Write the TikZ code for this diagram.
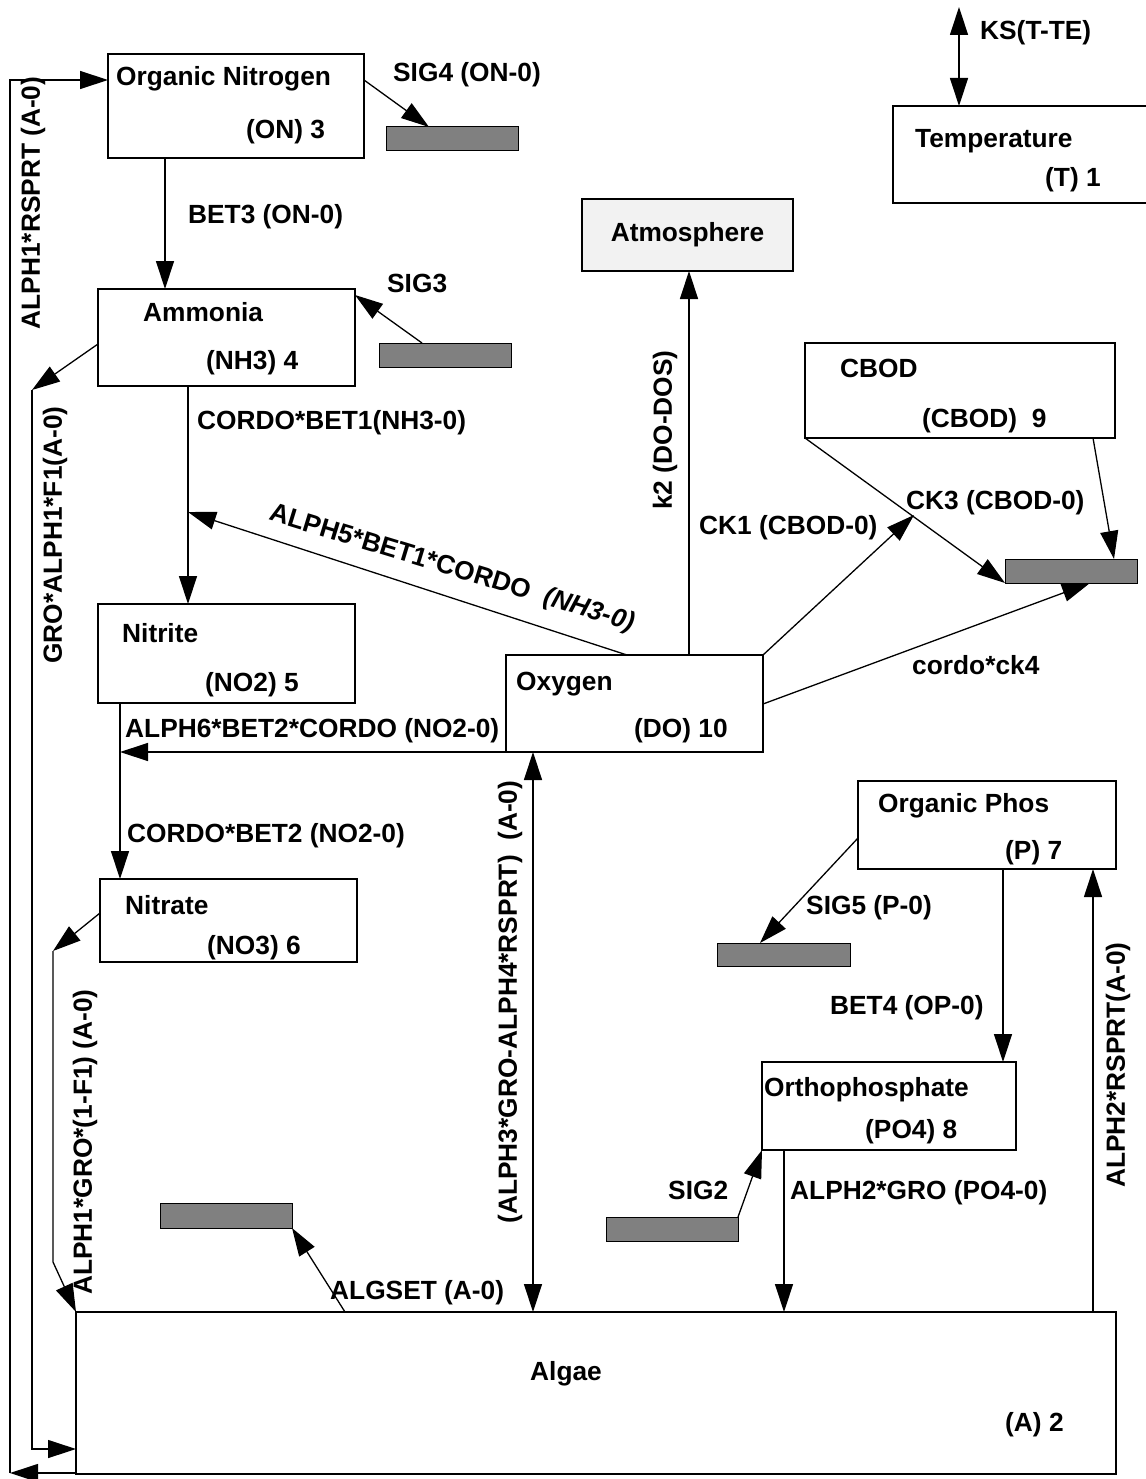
\documentclass[tikz,border=0pt]{standalone}
\usepackage{fontspec}
\setmainfont{Liberation Sans}
\usetikzlibrary{arrows.meta,calc}
\definecolor{sinkgray}{HTML}{808080}
\definecolor{atmfill}{HTML}{F2F2F2}
\begin{document}
\begin{tikzpicture}[x=1pt,y=-1pt,
  font=\fontsize{26.3}{30}\selectfont\bfseries,
  box/.style={draw, line width=2.6pt, anchor=north west, inner sep=0pt, outer sep=0pt},
  sink/.style={draw, line width=1pt, fill=sinkgray, anchor=north west, inner sep=0pt, outer sep=0pt, minimum width=132pt, minimum height=24pt},
  lbl/.style={anchor=base west, inner sep=0pt},
  vlbl/.style={rotate=90, inner sep=0pt},
  flow/.style={line width=1.3pt, -{Triangle[length=28pt,width=18pt]}},
  biflow/.style={line width=1.3pt, {Triangle[length=28pt,width=18pt]}-{Triangle[length=28pt,width=18pt]}},
]
\useasboundingbox (0,0) rectangle (1145,1479);

% boxes
\node[box, minimum width=256pt, minimum height=104pt] (on) at (108,54) {};
\node[box, minimum width=257pt, minimum height=97pt] (am) at (98,289) {};
\node[box, minimum width=257pt, minimum height=99pt] (ni) at (98,604) {};
\node[box, minimum width=257pt, minimum height=83pt] (na) at (100,879) {};
\node[box, minimum width=257pt, minimum height=97pt] (ox) at (506,655) {};
\node[box, line width=1.3pt, fill=atmfill, minimum width=211pt, minimum height=72pt] (atm) at (582,199) {};
\node[box, minimum width=280pt, minimum height=97pt] (tmp) at (893,106) {};
\node[box, minimum width=310pt, minimum height=95pt] (cb) at (805,343) {};
\node[box, minimum width=258pt, minimum height=88pt] (op) at (858,781) {};
\node[box, minimum width=254pt, minimum height=88pt] (or) at (762,1062) {};
\node[box, minimum width=1040pt, minimum height=162pt] (al) at (76,1312) {};

% sinks
\node[sink] (s4) at (386,127) {};
\node[sink] (s3) at (379,343) {};
\node[sink] (scb) at (1005,559) {};
\node[sink, minimum width=133pt, minimum height=23pt] (s5) at (717,943) {};
\node[sink] (s2) at (606,1217) {};
\node[sink, minimum height=25pt] (salg) at (160,1203) {};

% free ends
\coordinate (ksend) at (959,7);
\coordinate (ck1end) at (914,515);
\coordinate (a5end) at (188,512);
\coordinate (a6end) at (120,752);
\coordinate (naA) at (53,951);
\coordinate (naB) at (53,1262);
\coordinate (amA) at (32,390);
\coordinate (amB) at (32,1449);
\coordinate (alA) at (10,1473);
\coordinate (alB) at (10,80);

% box texts
\node[lbl] (t1) at (116,86) {Organic Nitrogen};
\node[lbl] (t2) at (246,139) {(ON) 3};
\node[lbl] (t3) at (143,321) {Ammonia};
\node[lbl] (t4) at (206,369) {(NH3) 4};
\node[lbl] (t5) at (122,642) {Nitrite};
\node[lbl] (t6) at (205,691) {(NO2) 5};
\node[lbl] (t7) at (125,914) {Nitrate};
\node[lbl] (t8) at (207,954) {(NO3) 6};
\node[lbl] (t9) at (516,690) {Oxygen};
\node[lbl] (t10) at (634,737) {(DO) 10};
\node[inner sep=0pt] (t11) at (atm.center) {Atmosphere};
\node[lbl] (t12) at (915,148) {Temperature};
\node[lbl] (t13) at (1045,187) {(T) 1};
\node[lbl] (t14) at (840,377) {CBOD};
\node[lbl] (t15) at (922,427) {(CBOD)\ \ 9};
\node[lbl] (t16) at (878,812) {Organic Phos};
\node[lbl] (t17) at (1005,859) {(P) 7};
\node[lbl] (t18) at (764,1096) {Orthophosphate};
\node[lbl] (t19) at (865,1138) {(PO4) 8};
\node[lbl] (t20) at (530,1380) {Algae};
\node[lbl] (t21) at (1005,1431) {(A) 2};

% connectors
\draw[flow] (on.east |- alB) -- (s4.north -| 429,0);
\draw[flow] (s3.north -| 422,0) -- (am.east |- 0,295);
\draw[flow] (on.south -| 165,0) -- (am.north -| 165,0);
\draw[biflow] (tmp.north -| ksend) -- (ksend);
\draw[flow] (ox.north -| 689,0) -- (atm.south -| 689,0);
\draw[flow] (cb.south west) -- (scb.south west);
\draw[flow] (cb.south -| 1093,0) -- (scb.north -| 1114,0);
\draw[flow] (ox.north east) -- (ck1end);
\draw[flow] (ox.east |- 0,704) -- (scb.south -| 1090,0);
\draw[flow] (ox.north -| 627,0) -- (a5end);
\draw[flow] (am.south -| a5end) -- (ni.north -| a5end);
\draw[flow] (ox.south west) -- (a6end);
\draw[flow] (ni.south -| a6end) -- (na.north -| a6end);
\draw[flow] (na.west |- 0,913) -- (naA);
\draw[flow] (naA) -- (naB) -- (al.north west);
\draw[flow] (am.west |- 0,344) -- (amA);
\draw[flow] (amA) -- (amB) -- (al.west |- amB);
\draw[flow] (al.west |- alA) -- (alA);
\draw[flow] (alA) -- (alB) -- (on.west |- alB);
\draw[biflow] (ox.south -| 533,0) -- (al.north -| 533,0);
\draw[flow] (al.north -| 345,0) -- (salg.south east);
\draw[flow] (op.west |- 0,838) -- (s5.north -| 760,0);
\draw[flow] (op.south -| 1003,0) -- (or.north -| 1003,0);
\draw[flow] (s2.north east) -- (or.south west);
\draw[flow] (or.south -| 784,0) -- (al.north -| 784,0);
\draw[flow] (al.north -| 1093,0) -- (op.south -| 1093,0);

% connector labels
\node[lbl] (l1) at (393,82) {SIG4 (ON-0)};
\node[lbl] (l2) at (188,224) {BET3 (ON-0)};
\node[lbl] (l3) at (387,292) {SIG3};
\node[lbl] (l4) at (980,40) {KS(T-TE)};
\node[vlbl] (l5) at (665,430) {k2 (DO-DOS)};
\node[lbl] (l6) at (699,534) {CK1 (CBOD-0)};
\node[lbl] (l7) at (906,509) {CK3 (CBOD-0)};
\node[lbl] (l8) at (912,674) {cordo*ck4};
\node[lbl] (l9) at (197,429) {CORDO*BET1(NH3-0)};
\node[inner sep=0pt, rotate=-17] (l10) at (452,569) {ALPH5*BET1*CORDO\ \ {\itshape(NH3-0)}};
\node[lbl] (l11) at (125,737) {ALPH6*BET2*CORDO (NO2-0)};
\node[lbl] (l12) at (127,842) {CORDO*BET2 (NO2-0)};
\node[vlbl] (l13) at (33,203) {ALPH1*RSPRT (A-0)};
\node[vlbl] (l14) at (55,535) {GRO*ALPH1*F1(A-0)};
\node[vlbl] (l15) at (85,1142) {ALPH1*GRO*(1-F1) (A-0)};
\node[vlbl] (l16) at (510,1002) {(ALPH3*GRO-ALPH4*RSPRT)\ \ (A-0)};
\node[vlbl] (l17) at (1118,1065) {ALPH2*RSPRT(A-0)};
\node[lbl] (l18) at (806,914) {SIG5 (P-0)};
\node[lbl] (l19) at (830,1014) {BET4 (OP-0)};
\node[lbl] (l20) at (668,1199) {SIG2};
\node[lbl] (l21) at (790,1199) {ALPH2*GRO (PO4-0)};
\node[lbl] (l22) at (330,1299) {ALGSET (A-0)};
\end{tikzpicture}
\end{document}
